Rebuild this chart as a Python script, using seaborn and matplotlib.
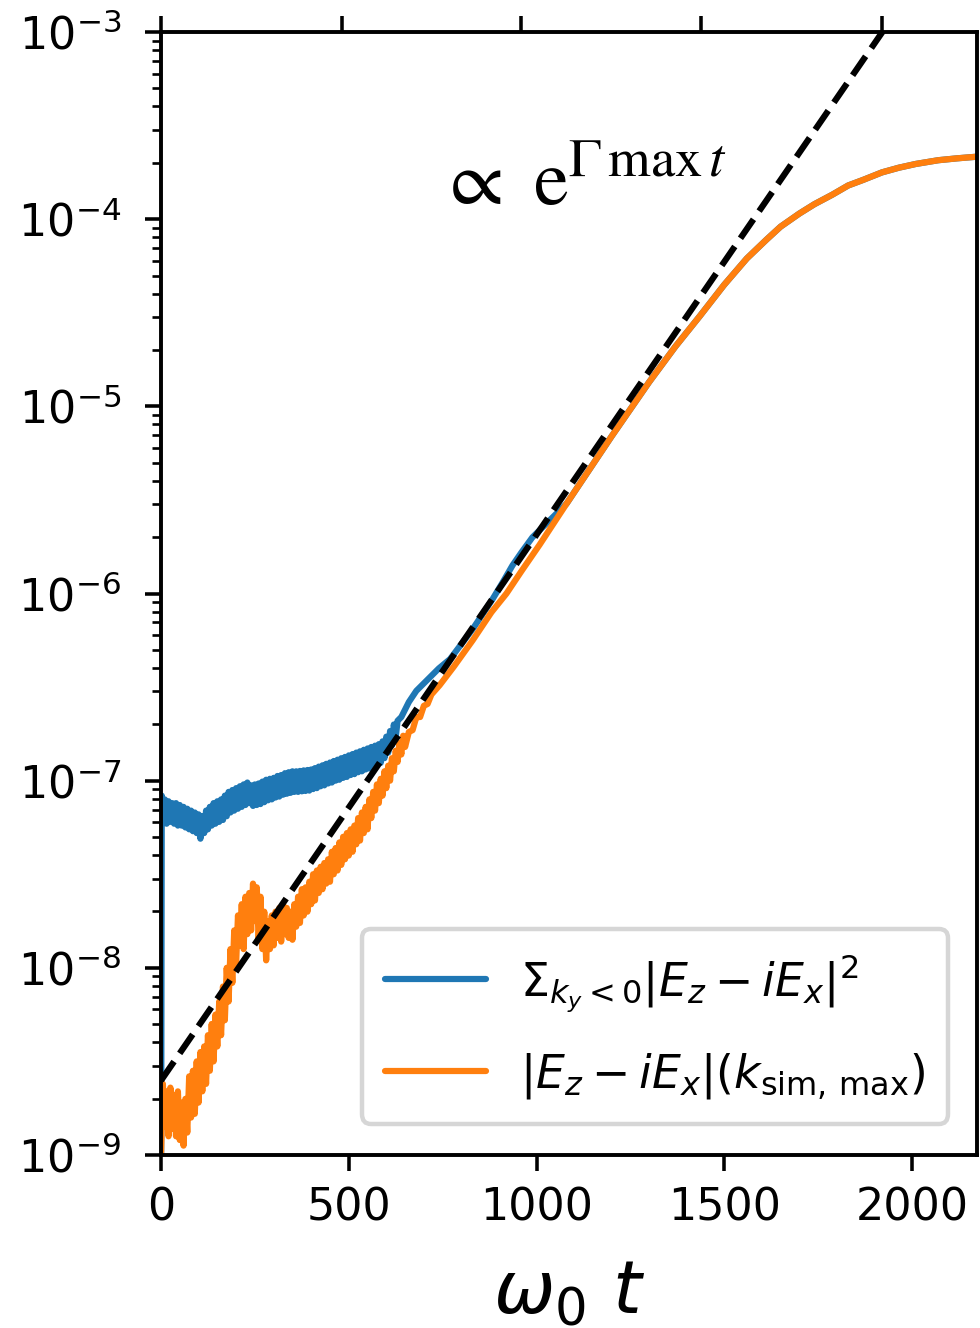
import numpy as np
import seaborn as sns
import matplotlib.pyplot as plt

# ---- data (y stored as log10) ----
# noisy early part of the k_sim,max mode
orange_early_t = [0, 5, 10, 15, 20, 25, 30, 35, 40, 45, 50, 55, 60, 65, 70, 75, 80, 85, 90, 95,
                  100, 105, 110, 115, 120, 125, 130, 135, 140, 145, 150, 155, 160, 165, 170,
                  175, 180, 185, 190, 195, 200, 205, 210, 215, 220, 225, 230, 235, 240, 245,
                  250, 255, 260, 265, 270, 275, 280, 285, 290, 295, 300, 305, 310, 315, 320,
                  325, 330, 335, 340, 345, 350, 355, 360, 365, 370, 375, 380, 385, 390, 395,
                  400, 405, 410, 415, 420, 425, 430, 435, 440, 445, 450, 455, 460, 465, 470,
                  475, 480, 485, 490, 495, 500, 505, 510, 515, 520, 525, 530, 535, 540, 545,
                  550, 555, 560, 565, 570, 575, 580, 585, 590, 595, 600, 605, 610, 615, 620,
                  625, 630, 635, 640, 645, 650, 660, 670, 680, 690, 700, 710, 720, 742, 780,
                  830, 880, 920, 960, 1008]
orange_early_log10 = [-9.00, -8.62, -8.85, -8.66, -8.90, -8.64, -8.86, -8.68, -8.90, -8.66,
                      -8.92, -8.72, -8.95, -8.70, -8.88, -8.58, -8.80, -8.55, -8.78, -8.50,
                      -8.72, -8.45, -8.66, -8.42, -8.62, -8.36, -8.55, -8.30, -8.50, -8.25,
                      -8.42, -8.18, -8.36, -8.10, -8.28, -8.00, -8.18, -7.90, -8.08, -7.80,
                      -7.98, -7.72, -7.88, -7.66, -7.90, -7.62, -7.82, -7.60, -7.80, -7.55,
                      -7.75, -7.57, -7.85, -7.62, -7.90, -7.70, -7.96, -7.75, -7.90, -7.72,
                      -7.88, -7.70, -7.84, -7.68, -7.86, -7.66, -7.82, -7.68, -7.84, -7.70,
                      -7.85, -7.66, -7.78, -7.62, -7.76, -7.58, -7.72, -7.57, -7.70, -7.54,
                      -7.66, -7.50, -7.64, -7.48, -7.60, -7.46, -7.58, -7.44, -7.55, -7.42,
                      -7.54, -7.38, -7.50, -7.36, -7.48, -7.33, -7.45, -7.30, -7.42, -7.28,
                      -7.40, -7.26, -7.38, -7.24, -7.34, -7.20, -7.32, -7.17, -7.28, -7.14,
                      -7.26, -7.10, -7.20, -7.06, -7.16, -7.02, -7.12, -6.99, -7.08, -6.95,
                      -7.04, -6.92, -7.00, -6.88, -6.95, -6.84, -6.90, -6.80, -6.86, -6.76,
                      -6.82, -6.74, -6.73, -6.66, -6.66, -6.60, -6.59, -6.54, -6.49, -6.39,
                      -6.25, -6.10, -6.00, -5.88, -5.74]

# noisy early part of the k_y<0 sum
blue_early_t = [0, 2, 5, 10, 15, 20, 25, 30, 35, 40, 45, 50, 55, 60, 65, 70, 75, 80, 85, 90,
                95, 100, 105, 110, 115, 120, 125, 130, 135, 140, 145, 150, 155, 160, 165, 170,
                175, 180, 185, 190, 195, 200, 205, 210, 215, 220, 225, 230, 235, 240, 245,
                250, 255, 260, 265, 270, 275, 280, 285, 290, 295, 300, 305, 310, 315, 320,
                325, 330, 335, 340, 345, 350, 355, 360, 365, 370, 375, 380, 385, 390, 395,
                400, 405, 410, 415, 420, 425, 430, 435, 440, 445, 450, 455, 460, 465, 470,
                475, 480, 485, 490, 495, 500, 505, 510, 515, 520, 525, 530, 535, 540, 545,
                550, 555, 560, 565, 570, 575, 580, 585, 590, 595, 600, 605, 610, 615, 620,
                625, 630, 640, 650, 660, 670, 680, 690, 700, 715, 740, 770, 800, 830, 860,
                883, 910, 936, 960, 989]
blue_early_log10 = [-9.50, -7.08, -7.22, -7.10, -7.23, -7.11, -7.22, -7.12, -7.23, -7.12,
                    -7.24, -7.13, -7.24, -7.14, -7.25, -7.15, -7.26, -7.16, -7.27, -7.17,
                    -7.28, -7.18, -7.31, -7.19, -7.28, -7.16, -7.26, -7.14, -7.24, -7.12,
                    -7.23, -7.11, -7.22, -7.10, -7.21, -7.08, -7.19, -7.06, -7.17, -7.05,
                    -7.16, -7.04, -7.15, -7.03, -7.14, -7.02, -7.13, -7.01, -7.12, -7.025,
                    -7.135, -7.02, -7.13, -7.015, -7.125, -7.005, -7.115, -6.995, -7.105,
                    -6.99, -7.10, -6.985, -7.09, -6.975, -7.085, -6.97, -7.075, -6.96, -7.07,
                    -6.955, -7.065, -6.95, -7.06, -6.95, -7.06, -6.948, -7.057, -6.945,
                    -7.055, -6.943, -7.053, -6.94, -7.045, -6.933, -7.04, -6.925, -7.03,
                    -6.918, -7.025, -6.91, -7.015, -6.903, -7.01, -6.895, -7.00, -6.888,
                    -6.995, -6.88, -6.985, -6.873, -6.98, -6.865, -6.97, -6.858, -6.965,
                    -6.85, -6.955, -6.843, -6.95, -6.835, -6.94, -6.828, -6.935, -6.82,
                    -6.925, -6.813, -6.92, -6.805, -6.905, -6.79, -6.88, -6.765, -6.85,
                    -6.735, -6.81, -6.70, -6.77, -6.68, -6.66, -6.62, -6.58, -6.55, -6.52,
                    -6.50, -6.48, -6.45, -6.40, -6.35, -6.27, -6.19, -6.10, -6.03, -5.94,
                    -5.85, -5.78, -5.70]

# common smooth part (both curves coincide here)
tail_t = [1080, 1140, 1200, 1300, 1370, 1434, 1500, 1560, 1612, 1650, 1700, 1740, 1787,
          1830, 1870, 1920, 1965, 2010, 2070, 2120, 2180]
tail_log10 = [-5.52, -5.34, -5.16, -4.87, -4.68, -4.52, -4.35, -4.21, -4.11, -4.04, -3.97,
              -3.92, -3.87, -3.82, -3.79, -3.75, -3.725, -3.705, -3.685, -3.675, -3.665]

orange_t = orange_early_t + tail_t
orange_log10 = orange_early_log10 + tail_log10
blue_t = blue_early_t + tail_t
blue_log10 = blue_early_log10 + tail_log10

fit_t = [0, 2000]
fit_y = [2.5e-9, 1.7e-3]

top_ticks = [0, 481, 960, 1439, 1920]

label_blue = r'$\Sigma_{k_y<0}|E_z - iE_x|^2$'
label_orange = r'$|E_z - iE_x|(k_{\mathrm{sim,\,max}})$'

# ---- style ----
sns.set_style("ticks")
plt.rcParams['font.family'] = ['DejaVu Sans']
plt.rcParams['axes.edgecolor'] = 'black'
plt.rcParams['xtick.color'] = 'black'
plt.rcParams['ytick.color'] = 'black'
plt.rcParams['text.color'] = 'black'
plt.rcParams['axes.labelcolor'] = 'black'

fig = plt.figure(figsize=(980 / 320, 1328 / 320), dpi=320)
ax = fig.add_axes([161 / 980, 1 - 1155 / 1328, 816 / 980, 1123 / 1328])

sns.lineplot(x=blue_t, y=np.power(10.0, blue_log10), ax=ax, color='#1f77b4',
             lw=1.4, label=label_blue)
sns.lineplot(x=orange_t, y=np.power(10.0, orange_log10), ax=ax, color='#ff7f0e',
             lw=1.4, label=label_orange)
sns.lineplot(x=fit_t, y=fit_y, ax=ax, color='black', lw=1.4, linestyle='--')

ax.set_yscale('log')
ax.set_ylim(1e-9, 1e-3)
ax.set_xlim(0, 2173)
ax.set_xticks([0, 500, 1000, 1500, 2000])

for s in ax.spines.values():
    s.set_linewidth(0.8)
ax.tick_params(which='major', length=3.5, width=0.8, labelsize=10)
ax.tick_params(which='minor', length=2, width=0.6)
ax.tick_params(axis='y', which='major', pad=5.5)

# ticks on top edge (from the panel above)
ax_top = ax.twiny()
ax_top.set_xlim(ax.get_xlim())
ax_top.set_xticks(top_ticks)
ax_top.tick_params(axis='x', direction='out', length=3.5, width=0.8, labeltop=False)

ax.set_xlabel(r'$\omega_0\ t$', fontsize=16.5, labelpad=6.3)
ax.set_ylabel('')

ax.text(0.34, 0.846, r'$\propto\ \mathrm{e}^{\Gamma\,\mathrm{max}\,t}$', transform=ax.transAxes,
        fontsize=17.6, math_fontfamily='stix', ha='left', va='baseline')

ax.legend(loc='lower right', bbox_to_anchor=(0.965, 0.028), borderaxespad=0,
          fontsize=10.3, handlelength=2.2, handletextpad=0.75, labelspacing=0.8,
          borderpad=0.5, frameon=True, framealpha=0.8, edgecolor='0.8', fancybox=True)

fig.savefig('out.png', dpi=320)
